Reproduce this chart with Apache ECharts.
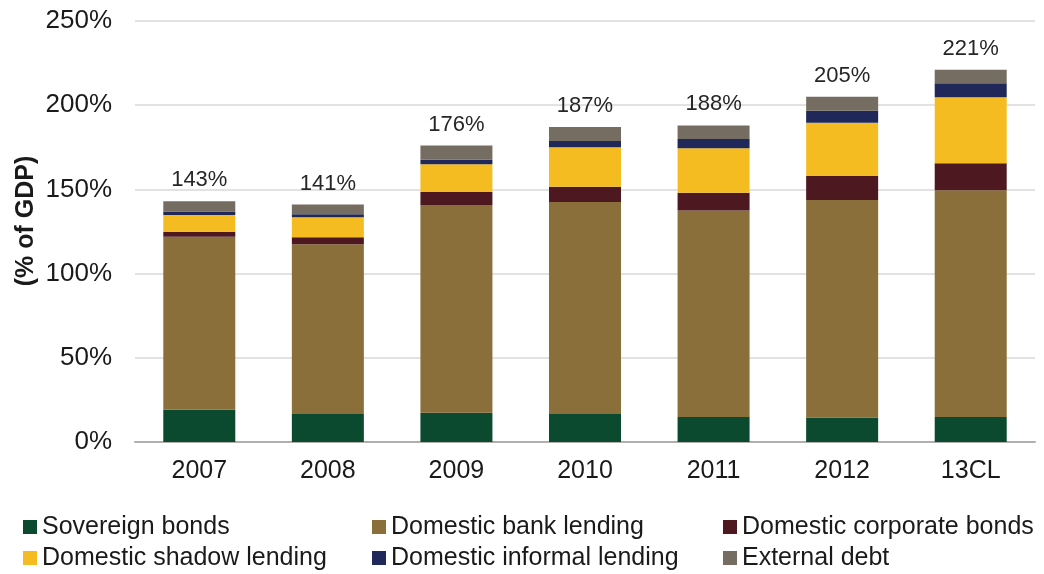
<!DOCTYPE html>
<html>
<head>
<meta charset="utf-8">
<script src="https://cdn.jsdelivr.net/npm/echarts@6/dist/echarts.min.js"></script>
<style>
  html, body { margin: 0; padding: 0; background: #ffffff; }
  #chart { width: 1044px; height: 574px; }
</style>
</head>
<body>
<div id="chart"></div>
<script>
// Debt stock by source, % of GDP
const categories = ['2007', '2008', '2009', '2010', '2011', '2012', '13CL'];
const sovereignBonds          = [19.2, 16.6, 17.4, 16.6, 14.8, 14.6, 14.8];
const domesticBankLending     = [102.7, 100.8, 123.3, 125.9, 122.6, 129.1, 134.7];
const domesticCorporateBonds  = [3.0, 4.2, 7.8, 9.1, 10.6, 14.3, 16.0];
const domesticShadowLending   = [9.9, 11.8, 16.4, 23.4, 26.4, 31.6, 39.2];
const domesticInformalLending = [2.1, 1.8, 2.7, 3.7, 5.5, 7.1, 8.3];
const externalDebt            = [6.1, 5.8, 8.4, 8.3, 8.1, 8.3, 8.0];
const yTicks = [0, 50, 100, 150, 200, 250];

const seriesDefs = [
  { name: 'Sovereign bonds',           data: sovereignBonds,          color: '#0b4a2e' },
  { name: 'Domestic bank lending',     data: domesticBankLending,     color: '#8b6f3b' },
  { name: 'Domestic corporate bonds',  data: domesticCorporateBonds,  color: '#4e1820' },
  { name: 'Domestic shadow lending',   data: domesticShadowLending,   color: '#f5bc22' },
  { name: 'Domestic informal lending', data: domesticInformalLending, color: '#1f2858' },
  { name: 'External debt',             data: externalDebt,            color: '#766d62' }
];

// Stack totals for the labels above each bar
const totals = categories.map((_, i) =>
  seriesDefs.reduce((s, d) => s + d.data[i], 0));

// Legend slots: two rows of three columns
const legendSlots = [
  { left: 23, top: 514 }, { left: 372, top: 514 }, { left: 723, top: 514 },
  { left: 23, top: 545 }, { left: 372, top: 545 }, { left: 723, top: 545 }
];

const font = '"Liberation Sans", Arial, Helvetica, sans-serif';

const chart = echarts.init(document.getElementById('chart'), null, { renderer: 'canvas' });

chart.setOption({
  animation: false,
  textStyle: { fontFamily: font },
  grid: { left: 135, right: 9, top: 21, bottom: 132, containLabel: false },
  legend: seriesDefs.map((d, i) => ({
    data: [d.name],
    left: legendSlots[i].left,
    top: legendSlots[i].top,
    orient: 'horizontal',
    icon: 'rect',
    itemWidth: 14,
    itemHeight: 14,
    padding: 0,
    selectedMode: false,
    textStyle: { fontFamily: font, fontSize: 25, color: '#1a1a1a', lineHeight: 26 }
  })),
  xAxis: {
    type: 'category',
    data: categories,
    axisLine: { show: true, lineStyle: { color: '#b0b0b0', width: 2 } },
    axisTick: { show: false },
    axisLabel: { color: '#1a1a1a', fontSize: 25, margin: 17, fontFamily: font }
  },
  yAxis: {
    type: 'value',
    min: yTicks[0],
    max: yTicks[yTicks.length - 1],
    interval: yTicks[1] - yTicks[0],
    axisLine: { show: false },
    axisTick: { show: false },
    splitLine: { show: true, lineStyle: { color: '#d9d9d9', width: 1.5 } },
    axisLabel: {
      color: '#1a1a1a', fontSize: 26, margin: 23, fontFamily: font,
      formatter: v => v + '%'
    }
  },
  graphic: [{
    type: 'text',
    x: 26,
    y: 221,
    rotation: Math.PI / 2,
    style: {
      text: '(% of GDP)',
      fill: '#1a1a1a',
      font: 'bold 25px ' + font,
      align: 'center',
      verticalAlign: 'middle'
    }
  }],
  series: seriesDefs.map((d, i) => ({
    name: d.name,
    type: 'bar',
    stack: 'debt',
    barWidth: '56%',
    data: d.data,
    itemStyle: { color: d.color },
    label: i === seriesDefs.length - 1 ? {
      show: true,
      position: 'top',
      distance: 10,
      color: '#262626',
      fontSize: 22,
      fontFamily: font,
      formatter: p => Math.round(totals[p.dataIndex]) + '%'
    } : { show: false }
  }))
});
</script>
</body>
</html>
